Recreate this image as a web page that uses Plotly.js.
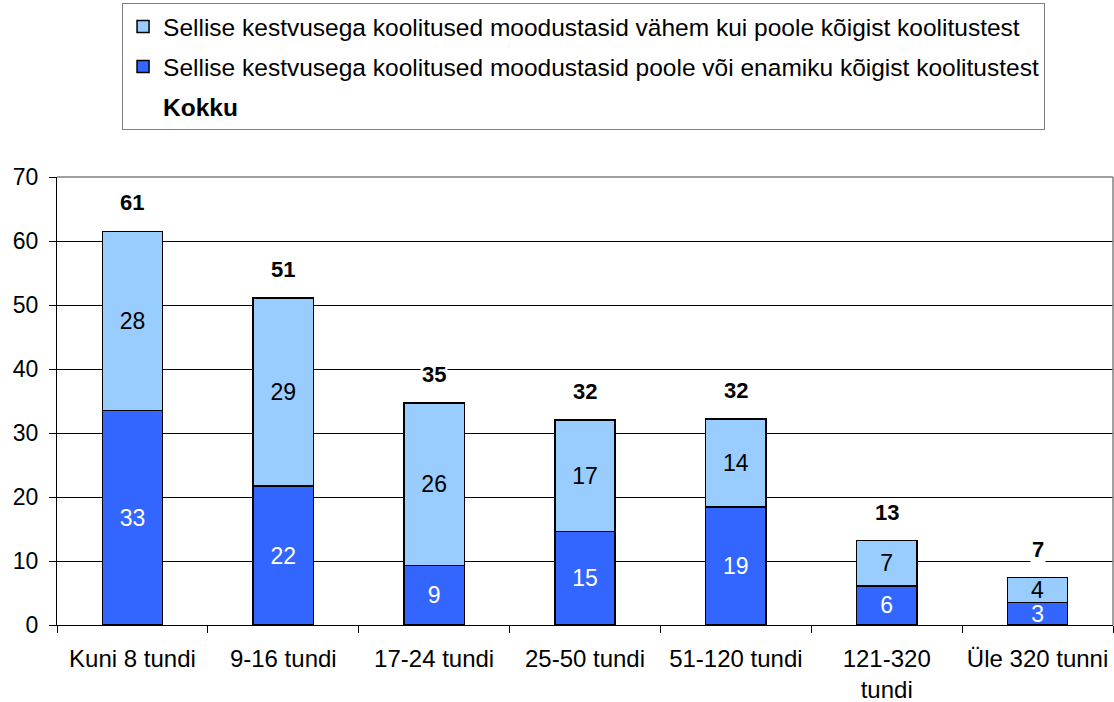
<!DOCTYPE html>
<html>
<head>
<meta charset="utf-8">
<script src="https://cdn.plot.ly/plotly-3.0.1.min.js"></script>
<style>
  body { margin: 0; background: #fff; }
  #chart { width: 1114px; height: 702px; }
</style>
</head>
<body>
<div id="chart"></div>
<script>
// categories (training duration)
const categories = ['Kuni 8 tundi', '9-16 tundi', '17-24 tundi', '25-50 tundi', '51-120 tundi', '121-320<br>tundi', 'Üle 320 tunni'];

// bar heights
const majority = [33.5, 21.7, 9.3, 14.6, 18.4, 6.1, 3.5];
const minority = [28.0, 29.4, 25.4, 17.4, 13.8, 7.1, 3.9];

// labels as printed on the chart
const majorityLabels = ['33', '22', '9', '15', '19', '6', '3'];
const minorityLabels = ['28', '29', '26', '17', '14', '7', '4'];
const totalLabels = ['61', '51', '35', '32', '32', '13', '7'];

const totals = majority.map((v, i) => v + minority[i]);

const font = 'Liberation Sans, Arial, sans-serif';

const darkTrace = {
  x: categories,
  y: majority,
  type: 'bar',
  name: 'Sellise kestvusega koolitused moodustasid poole või enamiku kõigist koolitustest',
  legendrank: 2,
  legendgroup: 'b',
  marker: { color: '#3366FF', line: { color: '#000', width: 1.5 } },
  text: majorityLabels,
  textposition: 'inside',
  insidetextanchor: 'middle',
  textangle: 0,
  constraintext: 'none',
  textfont: { color: '#fff', size: 23, family: font },
  hoverinfo: 'skip'
};

const lightTrace = {
  x: categories,
  y: minority,
  type: 'bar',
  name: 'Sellise kestvusega koolitused moodustasid vähem kui poole kõigist koolitustest',
  legendrank: 1,
  legendgroup: 'a',
  marker: { color: '#99CCFF', line: { color: '#000', width: 1.5 } },
  text: minorityLabels,
  textposition: 'inside',
  insidetextanchor: 'middle',
  textangle: 0,
  constraintext: 'none',
  textfont: { color: '#000', size: 23, family: font },
  hoverinfo: 'skip'
};

// only here so "Kokku" shows up in the legend
const totalTrace = {
  x: categories,
  y: totals,
  type: 'scatter',
  mode: 'markers',
  name: '<b>Kokku</b>',
  legendrank: 3,
  legendgroup: 'c',
  marker: { color: 'rgba(0,0,0,0)', size: 0 },
  hoverinfo: 'skip'
};

const totalNotes = categories.map((c, i) => ({
  x: c,
  y: totals[i],
  text: '<b>' + totalLabels[i] + '</b>',
  showarrow: false,
  yanchor: 'bottom',
  yshift: 14,
  bgcolor: '#fff',
  font: { size: 22, family: font, color: '#000' }
}));

const layout = {
  width: 1114,
  height: 702,
  margin: { l: 57, r: 1, t: 177, b: 77 },
  paper_bgcolor: '#fff',
  plot_bgcolor: '#fff',
  font: { family: font, size: 22, color: '#000' },
  barmode: 'stack',
  bargap: 0.6,
  showlegend: true,
  legend: {
    x: 0.0616,
    y: 1.388,
    xanchor: 'left',
    yanchor: 'top',
    traceorder: 'grouped',
    bordercolor: '#808080',
    borderwidth: 1,
    font: { size: 24.5, family: font },
    itemwidth: 30,
    tracegroupgap: 5
  },
  xaxis: {
    type: 'category',
    showline: true,
    linecolor: '#000',
    linewidth: 1,
    ticks: 'outside',
    tickson: 'boundaries',
    ticklen: 7,
    tickcolor: '#000',
    showgrid: false,
    ticklabelstandoff: 12,
    tickfont: { size: 24 }
  },
  yaxis: {
    range: [0, 70],
    dtick: 10,
    showline: true,
    linecolor: '#000',
    linewidth: 1,
    ticks: 'outside',
    ticklen: 7,
    tickcolor: '#000',
    gridcolor: '#000',
    gridwidth: 1,
    zeroline: false,
    ticklabelstandoff: 6,
    tickfont: { size: 23 }
  },
  shapes: [
    { type: 'line', xref: 'paper', yref: 'paper', x0: 0, x1: 1, y0: 1, y1: 1, line: { color: '#808080', width: 1.5 } },
    { type: 'line', xref: 'paper', yref: 'paper', x0: 1, x1: 1, y0: 0, y1: 1, line: { color: '#808080', width: 1.5 } }
  ],
  annotations: totalNotes
};

Plotly.newPlot('chart', [darkTrace, lightTrace, totalTrace], layout, { displayModeBar: false, staticPlot: true });
</script>
</body>
</html>
